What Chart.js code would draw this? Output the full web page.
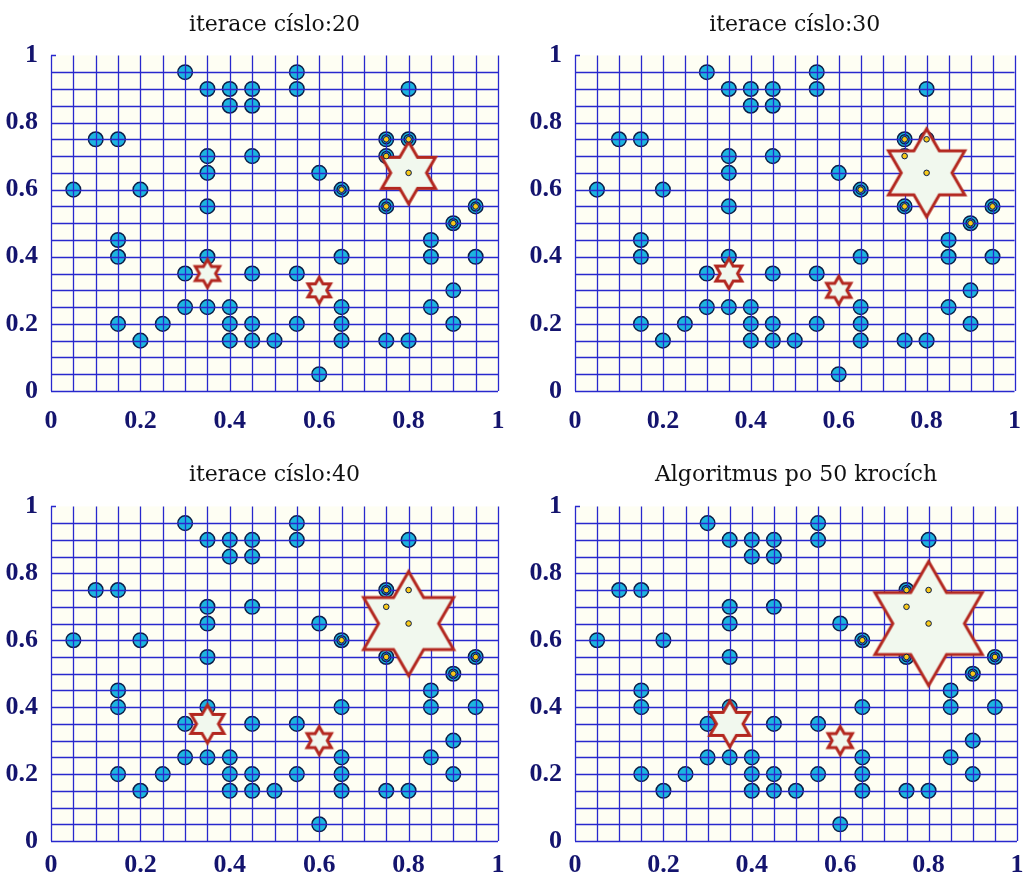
<!DOCTYPE html>
<html>
<head>
<meta charset="utf-8">
<script src="https://cdn.jsdelivr.net/npm/chart.js@4"></script>
<style>
  body { margin: 0; background: #fff; }
  .wrap { position: relative; width: 1028px; height: 872px; }
  canvas { position: absolute; }
</style>
</head>
<body>
<div class="wrap">
  <canvas id="c20" width="514" height="430" style="left:0;top:0"></canvas>
  <canvas id="c30" width="514" height="430" style="left:514px;top:0"></canvas>
  <canvas id="c40" width="514" height="442" style="left:0;top:430px"></canvas>
  <canvas id="c50" width="514" height="442" style="left:514px;top:430px"></canvas>
</div>
<script>
  // data points (same in every panel)
  const pointX = [0.3, 0.55, 0.35, 0.4, 0.45, 0.55, 0.8, 0.4, 0.45, 0.1, 0.15, 0.75, 0.8,
    0.35, 0.45, 0.75, 0.35, 0.6, 0.8, 0.05, 0.2, 0.65, 0.35, 0.75, 0.95, 0.9,
    0.15, 0.85, 0.15, 0.35, 0.65, 0.85, 0.95, 0.3, 0.45, 0.55, 0.9,
    0.3, 0.35, 0.4, 0.65, 0.85, 0.15, 0.25, 0.4, 0.45, 0.55, 0.65, 0.9,
    0.2, 0.4, 0.45, 0.5, 0.65, 0.75, 0.8, 0.6];
  const pointY = [0.95, 0.95, 0.9, 0.9, 0.9, 0.9, 0.9, 0.85, 0.85, 0.75, 0.75, 0.75, 0.75,
    0.7, 0.7, 0.7, 0.65, 0.65, 0.65, 0.6, 0.6, 0.6, 0.55, 0.55, 0.55, 0.5,
    0.45, 0.45, 0.4, 0.4, 0.4, 0.4, 0.4, 0.35, 0.35, 0.35, 0.3,
    0.25, 0.25, 0.25, 0.25, 0.25, 0.2, 0.2, 0.2, 0.2, 0.2, 0.2, 0.2,
    0.15, 0.15, 0.15, 0.15, 0.15, 0.15, 0.15, 0.05];

  // points assigned to the big cluster (yellow centre)
  const memberX = [0.75, 0.8, 0.75, 0.8, 0.65, 0.75, 0.95, 0.9];
  const memberY = [0.75, 0.75, 0.7, 0.65, 0.6, 0.55, 0.55, 0.5];

  // cluster centres (stars)
  const starX = [0.35, 0.6, 0.8];
  const starY = [0.35, 0.3, 0.65];
  const starSize20 = [14, 13, 31];
  const starSize30 = [15, 14, 44];
  const starSize40 = [19, 14, 52];
  const starSize50 = [23, 14, 62];

  const titles = ["iterace císlo:20", "iterace císlo:30", "iterace císlo:40", "Algoritmus po 50 krocích"];
  const tickLabels = ["0", "0.2", "0.4", "0.6", "0.8", "1"];

  const gridBlue = "rgb(40, 40, 205)";
  const navy = "#14146e";
  const cyan = "#1db4df";
  const dark = "#0c1d48";

  function starImage(R) {
    const c = document.createElement("canvas");
    const s = Math.ceil(2 * R + 12);
    c.width = s; c.height = s;
    const g = c.getContext("2d");
    g.translate(s / 2, s / 2);
    g.beginPath();
    for (let k = 0; k < 12; k++) {
      const a = (-90 + k * 30) * Math.PI / 180;
      const r = k % 2 === 0 ? R : R / Math.sqrt(3);
      g.lineTo(r * Math.cos(a), r * Math.sin(a));
    }
    g.closePath();
    g.fillStyle = "#f1f8ee";
    g.fill();
    g.lineWidth = 3;
    g.strokeStyle = "#b3271f";
    g.lineJoin = "miter";
    g.stroke();
    return c;
  }

  const zip = (xs, ys) => xs.map((x, i) => ({ x: x, y: ys[i] }));
  const crisp = (v) => Math.round(v) + 0.5;

  // plot background; grid lines from the scale ticks, drawn over the circles
  const plotLook = {
    id: "plotLook",
    beforeDraw(chart) {
      const a = chart.chartArea;
      chart.ctx.save();
      chart.ctx.fillStyle = "#fefef3";
      chart.ctx.fillRect(a.left, a.top, a.right - a.left, a.bottom - a.top);
      chart.ctx.restore();
    },
    beforeDatasetDraw(chart, args) {
      if (args.meta.label !== "stars") return;
      const a = chart.chartArea, sx = chart.scales.x, sy = chart.scales.y, ctx = chart.ctx;
      ctx.save();
      ctx.beginPath();
      sx.ticks.forEach((t) => {
        const px = crisp(sx.getPixelForValue(t.value));
        ctx.moveTo(px, a.top);
        ctx.lineTo(px, a.bottom);
      });
      sy.ticks.forEach((t) => {
        if (t.value >= 1) return;
        const py = crisp(sy.getPixelForValue(t.value));
        ctx.moveTo(a.left, py);
        ctx.lineTo(a.right, py);
      });
      // small tick at the top of the y axis
      const top = crisp(sy.getPixelForValue(1));
      ctx.moveTo(a.left, top);
      ctx.lineTo(a.left + 5, top);
      ctx.lineWidth = 1.3;
      ctx.strokeStyle = gridBlue;
      ctx.stroke();
      ctx.restore();
    }
  };

  function makeChart(id, title, starSize, yWidth, padRight, axisH, titlePad, xPad) {
    const stars = starSize.map(starImage);
    const tickFont = { family: "'Liberation Serif', serif", size: 26, weight: "bold" };
    new Chart(document.getElementById(id), {
      type: "scatter",
      data: {
        datasets: [
          {
            label: "points", order: 4,
            data: zip(pointX, pointY),
            pointRadius: 7.3, borderWidth: 1.5,
            backgroundColor: cyan, borderColor: dark
          },
          {
            label: "rings", order: 3,
            data: zip(memberX, memberY),
            pointRadius: 4.5, borderWidth: 1.5,
            backgroundColor: cyan, borderColor: dark
          },
          {
            label: "stars", order: 2,
            data: zip(starX, starY),
            pointRadius: starSize,
            pointStyle: (ctx) => stars[ctx.dataIndex]
          },
          {
            label: "members", order: 1,
            data: zip(memberX, memberY),
            pointRadius: 2.8, borderWidth: 1,
            backgroundColor: "#f7c91a", borderColor: dark
          }
        ]
      },
      options: {
        responsive: false,
        animation: false,
        events: [],
        layout: { autoPadding: false, padding: { left: 0, right: padRight, top: 0, bottom: 0 } },
        plugins: {
          legend: { display: false },
          tooltip: { enabled: false },
          title: {
            display: true, text: title, fullSize: false,
            color: "#111",
            font: { family: "'DejaVu Serif', serif", size: 22, weight: "normal" },
            padding: titlePad
          }
        },
        scales: {
          x: {
            type: "linear", min: 0, max: 1,
            afterFit: (s) => { s.height = axisH; },
            grid: { display: false },
            border: { display: false },
            ticks: {
              stepSize: 0.05, autoSkip: false, maxRotation: 0, padding: xPad,
              color: navy, font: tickFont,
              callback: (v, i) => (i % 4 === 0 ? tickLabels[i / 4] : "")
            }
          },
          y: {
            type: "linear", min: 0, max: 1,
            afterFit: (s) => { s.width = yWidth; },
            grid: { display: false },
            border: { display: false },
            ticks: {
              stepSize: 0.05, autoSkip: false, padding: 5,
              color: navy, font: tickFont,
              callback: (v, i) => (i % 4 === 0 ? tickLabels[i / 4] : "")
            }
          }
        }
      },
      plugins: [plotLook]
    });
  }

  makeChart("c20", titles[0], starSize20, 51, 16, 39, { top: 12, bottom: 17 }, 7);
  makeChart("c30", titles[1], starSize30, 61, 11, 39, { top: 12, bottom: 17 }, 7);
  makeChart("c40", titles[2], starSize40, 51, 16, 31, { top: 32, bottom: 18 }, 1);
  makeChart("c50", titles[3], starSize50, 61, 11, 31, { top: 32, bottom: 18 }, 1);
</script>
</body>
</html>
